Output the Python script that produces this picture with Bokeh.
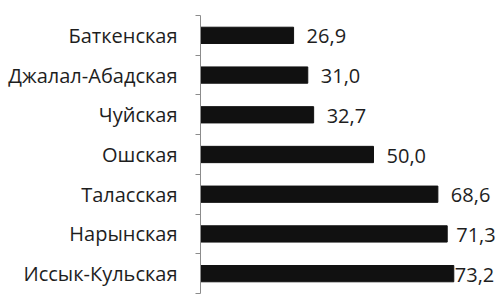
from bokeh.plotting import figure
from bokeh.models import ColumnDataSource, FixedTicker, Range1d
from bokeh.embed import file_html
from bokeh.resources import INLINE
from bokeh.core.properties import value

# Regions listed from the bottom row up
regions = ["Иссык-Кульская", "Нарынская", "Таласская", "Ошская",
           "Чуйская", "Джалал-Абадская", "Баткенская"]
values = [73.2, 71.3, 68.6, 50.0, 32.7, 31.0, 26.9]
value_labels = ["73,2", "71,3", "68,6", "50,0", "32,7", "31,0", "26,9"]

pos = [i + 0.5 for i in range(len(regions))]
# label shift right of the bar end (pixels); the longest bar's label is pulled in
label_dx = [1, 9, 13, 13, 13, 13, 13]

src = ColumnDataSource(dict(y=pos, v=values, lab=value_labels, dx=label_dx))

p = figure(width=500, height=306, output_backend="svg", toolbar_location=None,
           x_range=Range1d(0, 86.7), y_range=Range1d(0, len(regions)),
           min_border_left=200, min_border_right=0, min_border_top=15,
           min_border_bottom=13)
p.outline_line_color = None
p.grid.visible = False
p.xaxis.visible = False

p.hbar(y="y", right="v", left=0, height=0.41, source=src,
       fill_color="#111111", line_color="#111111")

p.text(x="v", y="y", text="lab", x_offset="dx", y_offset=1, source=src,
       text_align="left", text_baseline="middle",
       text_font=value("Open Sans"), text_font_size="20px", text_color="#1e1e1e")

ya = p.yaxis[0]
ya.ticker = FixedTicker(ticks=pos, minor_ticks=list(range(len(regions) + 1)))
ya.major_label_overrides = {pt: name for pt, name in zip(pos, regions)}
ya.major_tick_line_color = None
ya.major_tick_out = 0
ya.major_tick_in = 0
ya.minor_tick_out = 5
ya.minor_tick_in = 0
ya.minor_tick_line_color = "#8c8c8c"
ya.axis_line_color = "#8c8c8c"
ya.major_label_standoff = 18
ya.major_label_text_font = "Open Sans"
ya.major_label_text_font_size = "20px"
ya.major_label_text_color = "#1e1e1e"

open("out.html", "w").write(file_html(p, INLINE))
